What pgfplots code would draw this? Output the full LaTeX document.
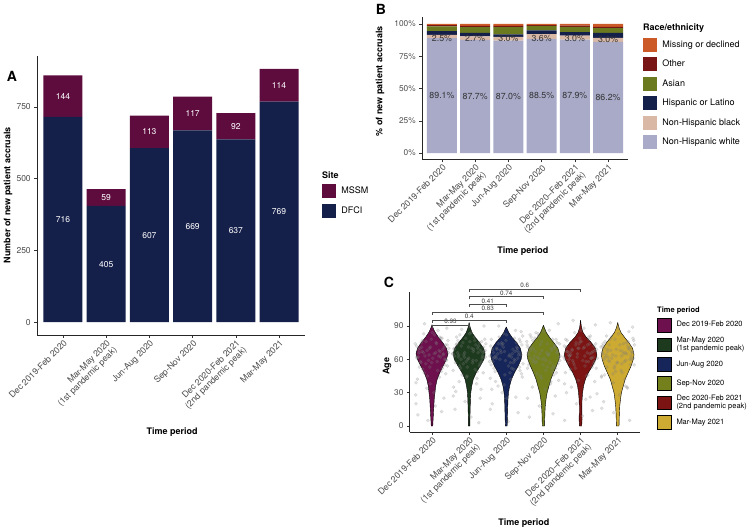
\documentclass[border=0pt]{standalone}
\usepackage{pgfplots}
\pgfplotsset{compat=1.18}
\usepackage{pgfplotstable}
\usepackage{fontspec}
\setmainfont{TeX Gyre Heros}

\definecolor{mssm}{RGB}{94,12,62}
\definecolor{dfci}{RGB}{20,31,74}
\definecolor{nhw}{RGB}{168,170,200}
\definecolor{nhb}{RGB}{217,184,166}
\definecolor{hisp}{RGB}{20,31,74}
\definecolor{asian}{RGB}{107,121,31}
\definecolor{oth}{RGB}{120,22,22}
\definecolor{miss}{RGB}{204,90,40}
\definecolor{ca}{RGB}{110,16,78}
\definecolor{cb}{RGB}{29,58,30}
\definecolor{cc}{RGB}{22,38,90}
\definecolor{cd}{RGB}{115,128,28}
\definecolor{ce}{RGB}{125,20,20}
\definecolor{cf}{RGB}{205,170,50}

\pgfplotsset{
  gg/.style={
    scale only axis, clip=false,
    axis lines=left, axis line style={-, line width=0.55pt, black!85},
    tick align=outside, major tick length=2.75pt,
    tick style={line width=0.5pt, black!80},
    tick label style={text=black!70, font=\fontsize{8.5}{9.2}\selectfont},
    xticklabel style={font=\fontsize{8.8}{9.4}\selectfont},
    label style={font=\bfseries\fontsize{9}{10}\selectfont},
    /pgf/number format/assume math mode=true,
    xtick={1,...,6}, xmin=0.4, xmax=6.6,
    xticklabel style={rotate=45, anchor=north east, align=right, inner sep=1pt},
    legend style={draw=none, fill=none, inner sep=0pt, outer sep=0pt,
      anchor=north west, row sep=5.5pt,
      nodes={inner sep=0pt, align=left},
      /tikz/every odd column/.append style={column sep=5.5pt}},
    legend cell align=left,
  },
  sqleg/.style={legend image code/.code={\fill[##1] (0pt,-7pt) rectangle (14pt,7pt);}},
  brk/.style={forget plot, black!70, line width=0.5pt},
}
\tikzset{
  lw/.style={font=\fontsize{8.5}{9}\selectfont, text=white},
  lk/.style={font=\fontsize{8.8}{9}\selectfont, text=black!80},
  pv/.style={font=\fontsize{6.3}{7}\selectfont, text=black!75, anchor=south, inner sep=0.8pt},
}

% jittered ages: offset and one column per time period
\pgfplotstableread{
dx y1 y2 y3 y4 y5 y6
-0.41 62 70 55 66 48 72
0.33 71 58 64 52 67 60
-0.12 45 66 73 61 75 39
0.21 80 43 60 70 58 66
-0.30 57 77 49 35 63 81
0.44 66 62 81 59 29 55
-0.05 38 53 67 76 70 63
0.12 74 69 42 64 54 48
-0.36 69 31 58 82 77 70
0.28 52 75 71 46 61 76
-0.22 83 60 36 57 68 58
0.38 60 48 76 67 40 67
-0.44 28 65 63 73 72 44
0.06 65 84 54 50 59 73
-0.16 76 56 68 62 84 61
0.25 49 72 86 78 65 35
-0.27 67 40 61 69 51 69
0.41 73 67 47 41 74 79
-0.09 59 79 74 65 62 52
0.16 86 51 65 86 45 65
-0.39 42 63 33 55 71 74
0.30 64 25 70 72 66 85
-0.02 78 71 59 60 79 57
0.35 55 61 78 48 56 71
-0.33 70 74 52 80 64 62
0.09 18 57 64 66 88 50
-0.19 63 46 80 58 57 68
0.43 77 68 44 74 69 77
-0.25 51 82 69 63 35 59
0.19 68 59 57 38 73 42
-0.42 72 35 72 71 60 66
0.02 61 76 25 61 76 83
-0.14 34 64 66 83 52 64
0.27 79 54 75 54 81 72
-0.35 66 73 61 68 67 46
0.37 47 66 50 75 58 60
-0.07 70 44 83 45 70 78
0.14 58 80 62 64 24 67
-0.29 75 62 40 77 63 53
0.23 62 70 67 52 78 75
-0.38 10 15 20 8 30 22
0.32 25 33 12 27 14 5
-0.11 5 22 30 18 20 12
0.40 88 90 85 92 91 89
-0.20 92 87 90 84 95 93
0.05 30 8 4 33 9 28
-0.43 20 27 15 25 5 16
0.26 13 3 26 11 26 34
-0.31 58 66 62 71 60 64
0.18 63 73 69 57 66 58
-0.04 71 60 46 68 74 69
0.42 54 78 73 62 52 61
-0.23 66 52 65 79 69 73
0.11 75 67 57 53 63 56
-0.40 61 69 78 64 78 65
0.29 69 56 68 70 61 70
-0.17 56 75 60 47 55 80
0.36 73 63 53 66 72 63
-0.08 64 58 71 73 65 54
0.07 82 70 63 59 70 68
-0.34 53 80 66 61 57 76
0.22 67 49 79 68 80 59
-0.45 74 65 58 76 62 71
0.39 59 71 64 56 68 66
-0.13 68 62 75 81 73 47
0.15 50 77 52 65 58 74
-0.26 77 54 70 60 64 62
0.31 65 68 61 72 53 69
-0.01 57 61 77 55 76 57
0.45 70 74 56 63 61 73
-0.37 62 57 69 70 67 60
0.24 79 66 59 49 74 65
-0.21 48 72 74 67 59 78
0.10 66 59 48 74 71 63
-0.28 71 64 63 58 66 67
0.34 60 76 66 78 62 55
-0.06 53 45 37 43 41 49
0.20 44 38 51 40 46 36
-0.43 39 50 43 52 38 45
0.01 84 83 82 85 86 88
}\jit

\begin{document}
\begin{tikzpicture}
\useasboundingbox (0,0) rectangle (749pt,528pt);

% ---------------- Panel A ----------------
\begin{axis}[gg, width=268pt, height=279pt, at={(37pt,193pt)}, anchor=south west,
  ymin=-45, ymax=928, ytick={0,250,500,750},
  ybar stacked, bar width=0.9,
  every axis plot post/.append style={sqleg},
  xticklabels={{Dec 2019-Feb 2020},{Mar-May 2020\\(1st pandemic peak)},{Jun-Aug 2020},{Sep-Nov 2020},{Dec 2020-Feb 2021\\(2nd pandemic peak)},{Mar-May 2021}},
  ylabel={Number of new patient accruals}, xlabel={Time period},
  ylabel style={at={(axis description cs:-0.108,0.5)}, anchor=center},
  xlabel style={at={(axis description cs:0.504,-0.348)}, anchor=center},
  reverse legend,
  legend style={at={(axis description cs:1.0634,0.5412)}, font=\fontsize{9}{10}\selectfont},
]
\addplot[fill=dfci, draw=none] coordinates {(1,716) (2,405) (3,607) (4,669) (5,637) (6,769)};
\addlegendentry{DFCI}
\addplot[fill=mssm, draw=none] coordinates {(1,144) (2,59) (3,113) (4,117) (5,92) (6,114)};
\addlegendentry{MSSM}
\coordinate (a1d) at (axis cs:1,358); \coordinate (a1m) at (axis cs:1,788);
\coordinate (a2d) at (axis cs:2,202); \coordinate (a2m) at (axis cs:2,434);
\coordinate (a3d) at (axis cs:3,303); \coordinate (a3m) at (axis cs:3,663);
\coordinate (a4d) at (axis cs:4,334); \coordinate (a4m) at (axis cs:4,727);
\coordinate (a5d) at (axis cs:5,318); \coordinate (a5m) at (axis cs:5,683);
\coordinate (a6d) at (axis cs:6,384); \coordinate (a6m) at (axis cs:6,826);
\node[anchor=west, font=\bfseries\fontsize{9}{10}\selectfont, inner sep=0pt] at (axis description cs:1.0634,0.5735) {Site};
\end{axis}
\node[lw] at (a1d) {716}; \node[lw] at (a1m) {144};
\node[lw] at (a2d) {405}; \node[lw] at (a2m) {59};
\node[lw] at (a3d) {607}; \node[lw] at (a3m) {113};
\node[lw] at (a4d) {669}; \node[lw] at (a4m) {117};
\node[lw] at (a5d) {637}; \node[lw] at (a5m) {92};
\node[lw] at (a6d) {769}; \node[lw] at (a6m) {114};

% ---------------- Panel B ----------------
\begin{axis}[gg, width=206pt, height=142pt, at={(422pt,368.5pt)}, anchor=south west,
  ymin=-5, ymax=105, ytick={0,25,50,75,100}, yticklabels={0\%,25\%,50\%,75\%,100\%},
  yticklabel style={font=\fontsize{8.3}{9}\selectfont},
  ybar stacked, bar width=0.9,
  every axis plot post/.append style={sqleg},
  xticklabels={{Dec 2019-Feb 2020},{Mar-May 2020\\(1st pandemic peak)},{Jun-Aug 2020},{Sep-Nov 2020},{Dec 2020--Feb 2021\\(2nd pandemic peak)},{Mar-May 2021}},
  ylabel={\% of new patient accruals}, xlabel={Time period},
  ylabel style={at={(axis description cs:-0.204,0.55)}, anchor=center},
  xlabel style={at={(axis description cs:0.49,-0.644)}, anchor=center},
  reverse legend,
  legend style={at={(axis description cs:1.0728,0.8577)}, font=\fontsize{9}{10}\selectfont},
]
\addplot[fill=nhw, draw=none] coordinates {(1,89.1) (2,87.7) (3,87.0) (4,88.5) (5,87.9) (6,86.2)};
\addlegendentry{Non-Hispanic white}
\addplot[fill=nhb, draw=none] coordinates {(1,2.5) (2,2.7) (3,3.0) (4,3.6) (5,3.0) (6,3.0)};
\addlegendentry{Non-Hispanic black}
\addplot[fill=hisp, draw=none] coordinates {(1,2.9) (2,2.6) (3,1.9) (4,3.0) (5,2.8) (6,3.9)};
\addlegendentry{Hispanic or Latino}
\addplot[fill=asian, draw=none] coordinates {(1,3.6) (2,4.6) (3,5.6) (4,3.4) (5,4.1) (6,3.7)};
\addlegendentry{Asian}
\addplot[fill=oth, draw=none] coordinates {(1,0.9) (2,1.0) (3,1.1) (4,0.6) (5,0.9) (6,0.9)};
\addlegendentry{Other}
\addplot[fill=miss, draw=none] coordinates {(1,1.0) (2,1.4) (3,1.4) (4,0.9) (5,1.3) (6,2.3)};
\addlegendentry{Missing or declined}
\coordinate (b1w) at (axis cs:1,44.9); \coordinate (b1b) at (axis cs:1,88.5);
\coordinate (b2w) at (axis cs:2,44.2); \coordinate (b2b) at (axis cs:2,88.5);
\coordinate (b3w) at (axis cs:3,43.8); \coordinate (b3b) at (axis cs:3,88.5);
\coordinate (b4w) at (axis cs:4,44.6); \coordinate (b4b) at (axis cs:4,88.8);
\coordinate (b5w) at (axis cs:5,44.3); \coordinate (b5b) at (axis cs:5,88.5);
\coordinate (b6w) at (axis cs:6,43.4); \coordinate (b6b) at (axis cs:6,88.2);
\node[anchor=west, font=\bfseries\fontsize{9}{10}\selectfont, inner sep=0pt] at (axis description cs:1.0728,0.926) {Race/ethnicity};
\end{axis}
\node[lk] at (b1w) {89.1\%}; \node[lk] at (b1b) {2.5\%};
\node[lk] at (b2w) {87.7\%}; \node[lk] at (b2b) {2.7\%};
\node[lk] at (b3w) {87.0\%}; \node[lk] at (b3b) {3.0\%};
\node[lk] at (b4w) {88.5\%}; \node[lk] at (b4b) {3.6\%};
\node[lk] at (b5w) {87.9\%}; \node[lk] at (b5b) {3.0\%};
\node[lk] at (b6w) {86.2\%}; \node[lk] at (b6b) {3.0\%};

% ---------------- Panel C ----------------
\begin{axis}[gg, width=230.3pt, height=140pt, at={(409.7pt,96pt)}, anchor=south west,
  ymin=-5.4, ymax=120.6, ytick={0,30,60,90},
  yticklabel style={font=\fontsize{8.3}{9}\selectfont},
  xticklabels={{Dec 2019-Feb 2020},{Mar-May 2020\\(1st pandemic peak)},{Jun-Aug 2020},{Sep-Nov 2020},{Dec 2020--Feb 2021\\(2nd pandemic peak)},{Mar-May 2021}},
  ylabel={Age}, xlabel={Time period},
  ylabel style={at={(axis description cs:-0.0986,0.47)}, anchor=center},
  xlabel style={at={(axis description cs:0.496,-0.65)}, anchor=center},
  legend image code/.code={\filldraw[#1] (0.2pt,-6.8pt) rectangle (13.8pt,6.8pt);},
  legend style={at={(axis description cs:1.0738,0.8143)}, font=\fontsize{7.5}{8.2}\selectfont, row sep=5pt},
]
\addplot[fill=ca, draw=black, line width=0.4pt] coordinates {
(1.02,0)(1.03,6)(1.04,12)(1.05,18)(1.06,24)(1.08,30)(1.1,36)(1.14,42)(1.21,48)(1.3,54)(1.39,60)(1.43,65)(1.39,70)(1.29,75)(1.17,80)(1.09,84)(1.045,87)(1.02,89)(1.003,91)
(0.997,91)(0.98,89)(0.955,87)(0.91,84)(0.83,80)(0.71,75)(0.61,70)(0.57,65)(0.61,60)(0.7,54)(0.79,48)(0.86,42)(0.9,36)(0.92,30)(0.94,24)(0.95,18)(0.96,12)(0.97,6)(0.98,0)} -- cycle;
\addlegendentry{Dec 2019-Feb 2020}
\addplot[fill=cb, draw=black, line width=0.4pt] coordinates {
(2.02,0)(2.02,6)(2.025,12)(2.03,18)(2.035,24)(2.045,30)(2.07,36)(2.11,42)(2.19,48)(2.3,54)(2.4,60)(2.43,65)(2.39,70)(2.28,75)(2.16,80)(2.08,84)(2.035,88)(2.012,91)(2.002,93)
(1.998,93)(1.988,91)(1.965,88)(1.92,84)(1.84,80)(1.72,75)(1.61,70)(1.57,65)(1.6,60)(1.7,54)(1.81,48)(1.89,42)(1.93,36)(1.955,30)(1.965,24)(1.97,18)(1.975,12)(1.98,6)(1.98,0)} -- cycle;
\addlegendentry{Mar-May 2020\\(1st pandemic peak)}
\addplot[fill=cc, draw=black, line width=0.4pt] coordinates {
(3.025,0)(3.03,6)(3.035,12)(3.04,18)(3.045,24)(3.06,30)(3.09,36)(3.14,42)(3.22,48)(3.32,54)(3.4,60)(3.42,64)(3.38,70)(3.28,75)(3.15,80)(3.07,84)(3.03,87)(3.002,89)
(2.998,89)(2.97,87)(2.93,84)(2.85,80)(2.72,75)(2.62,70)(2.58,64)(2.6,60)(2.68,54)(2.78,48)(2.86,42)(2.91,36)(2.94,30)(2.955,24)(2.96,18)(2.965,12)(2.97,6)(2.975,0)} -- cycle;
\addlegendentry{Jun-Aug 2020}
\addplot[fill=cd, draw=black, line width=0.4pt] coordinates {
(4.03,0)(4.035,6)(4.04,12)(4.05,18)(4.07,24)(4.1,30)(4.15,36)(4.2,42)(4.27,48)(4.35,54)(4.42,60)(4.44,64)(4.39,70)(4.28,75)(4.16,80)(4.08,84)(4.03,88)(4.002,90.5)
(3.998,90.5)(3.97,88)(3.92,84)(3.84,80)(3.72,75)(3.61,70)(3.56,64)(3.58,60)(3.65,54)(3.73,48)(3.8,42)(3.85,36)(3.9,30)(3.93,24)(3.95,18)(3.96,12)(3.965,6)(3.97,0)} -- cycle;
\addlegendentry{Sep-Nov 2020}
\addplot[fill=ce, draw=black, line width=0.4pt] coordinates {
(5.03,0)(5.04,6)(5.035,12)(5.035,18)(5.04,24)(5.055,30)(5.08,36)(5.13,42)(5.21,48)(5.32,54)(5.41,60)(5.44,64)(5.4,70)(5.29,75)(5.15,80)(5.07,84)(5.03,88)(5.015,91)(5.002,95)
(4.998,95)(4.985,91)(4.97,88)(4.93,84)(4.85,80)(4.71,75)(4.6,70)(4.56,64)(4.59,60)(4.68,54)(4.79,48)(4.87,42)(4.92,36)(4.945,30)(4.96,24)(4.965,18)(4.965,12)(4.96,6)(4.97,0)} -- cycle;
\addlegendentry{Dec 2020-Feb 2021\\(2nd pandemic peak)}
\addplot[fill=cf, draw=black, line width=0.4pt] coordinates {
(6.035,0)(6.04,6)(6.045,12)(6.055,18)(6.075,24)(6.1,30)(6.15,36)(6.2,42)(6.28,48)(6.36,54)(6.42,60)(6.44,64)(6.4,70)(6.3,75)(6.18,80)(6.09,84)(6.04,88)(6.015,91)(6.002,93)
(5.998,93)(5.985,91)(5.96,88)(5.91,84)(5.82,80)(5.7,75)(5.6,70)(5.56,64)(5.58,60)(5.64,54)(5.72,48)(5.8,42)(5.85,36)(5.9,30)(5.925,24)(5.945,18)(5.955,12)(5.96,6)(5.965,0)} -- cycle;
\addlegendentry{Mar-May 2021}
% jittered points
\pgfplotsinvokeforeach{1,...,6}{
  \addplot[forget plot, only marks, mark=*, mark size=1.6pt, color=black!50, opacity=0.22]
    table[x expr=\thisrow{dx}+#1, y=y#1] {\jit};
}
% comparison brackets
\addplot[brk] coordinates {(1,88.4)(1,90.9)(2,90.9)(2,88.4)};
\node[pv] at (axis cs:1.5,90.9) {0.93};
\addplot[brk] coordinates {(1,92.9)(1,95.4)(3,95.4)(3,92.9)};
\node[pv] at (axis cs:2,95.4) {0.4};
\addplot[brk] coordinates {(1,100.1)(1,102.6)(4,102.6)(4,100.1)};
\node[pv] at (axis cs:2.5,102.6) {0.83};
\addplot[brk] coordinates {(2,107)(2,109.5)(3,109.5)(3,107)};
\node[pv] at (axis cs:2.5,109.5) {0.41};
\addplot[brk] coordinates {(2,113.9)(2,116.4)(4,116.4)(4,113.9)};
\node[pv] at (axis cs:3,116.4) {0.74};
\addplot[brk] coordinates {(2,120.8)(2,123.3)(5,123.3)(5,120.8)};
\node[pv] at (axis cs:3.5,123.3) {0.6};
\node[anchor=west, font=\bfseries\fontsize{7.5}{8.5}\selectfont, inner sep=0pt] at (axis description cs:1.0738,0.871) {Time period};
\end{axis}

% panel letters
\node[font=\bfseries\fontsize{14}{15}\selectfont] at (12pt,452pt) {A};
\node[font=\bfseries\fontsize{14}{15}\selectfont] at (381pt,519pt) {B};
\node[font=\bfseries\fontsize{14}{15}\selectfont] at (389pt,246pt) {C};
\end{tikzpicture}
\end{document}
